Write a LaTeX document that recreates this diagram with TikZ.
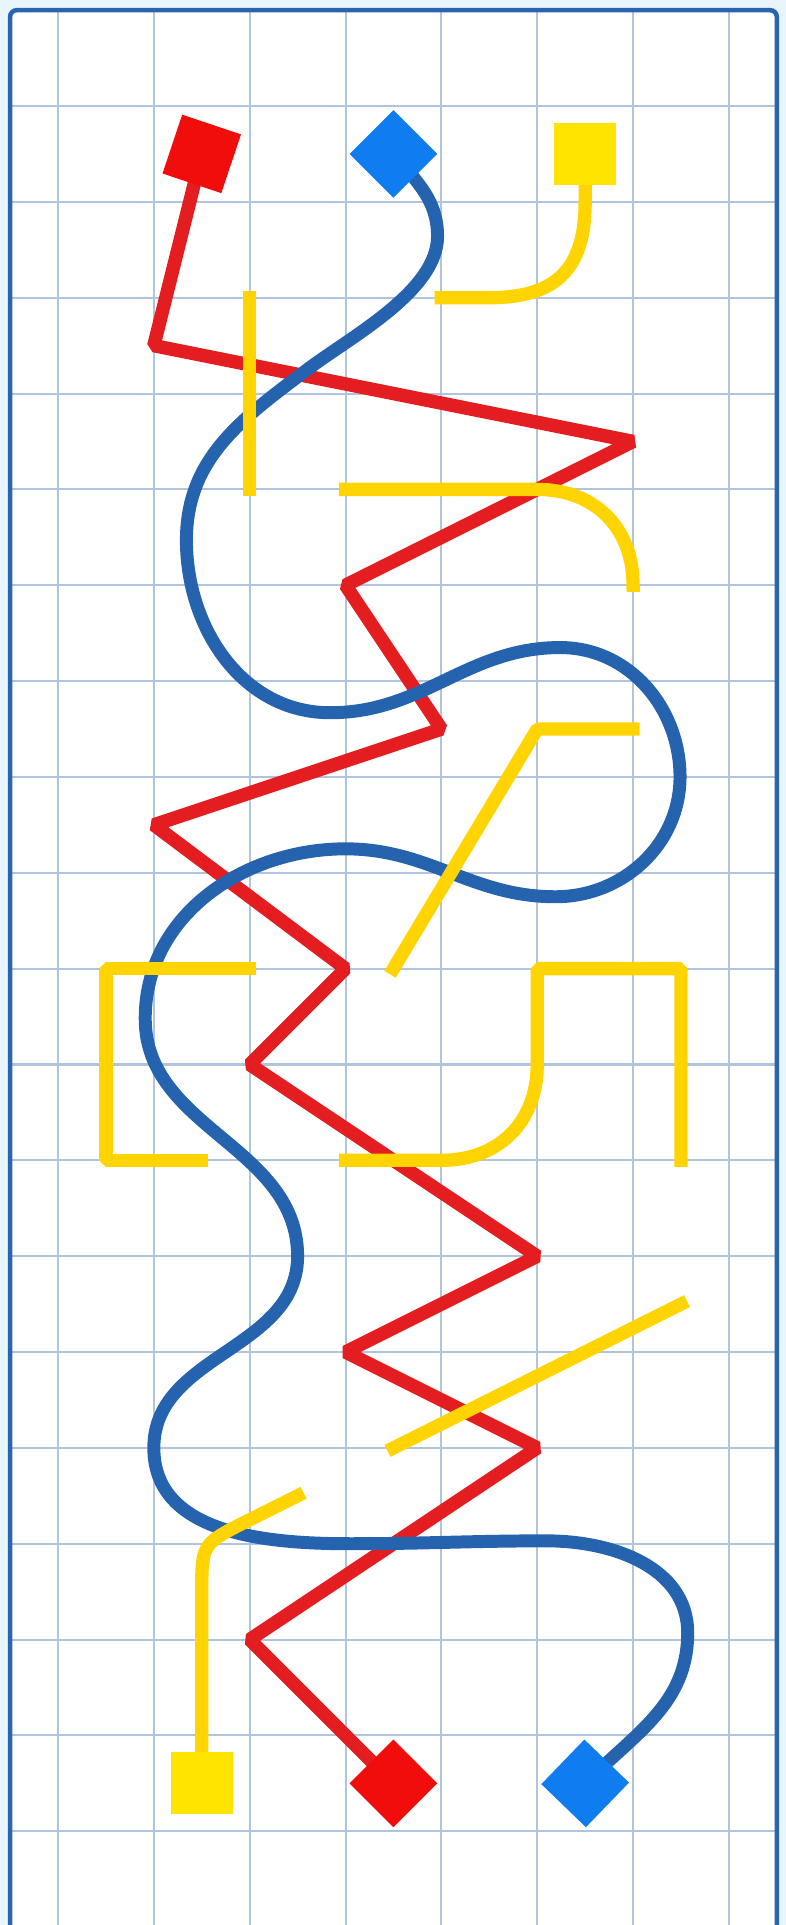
\documentclass[tikz,border=0pt]{standalone}
\usepackage{tikz}
\usetikzlibrary{backgrounds}
\definecolor{redln}{HTML}{E41E20}
\definecolor{redfill}{HTML}{F20D0D}
\definecolor{blueln}{HTML}{2563AE}
\definecolor{bluefill}{HTML}{0F7CF0}
\definecolor{yelln}{HTML}{FFD400}
\definecolor{yelfill}{HTML}{FFE400}
\definecolor{gridc}{HTML}{B0C4DE}
\definecolor{framec}{HTML}{2A66B0}
\definecolor{outside}{HTML}{E8F5FD}

\begin{document}
\begin{tikzpicture}[
  tile/.style={minimum size=6.47mm,inner sep=0pt,outer sep=0pt},
  redsq/.style={tile,fill=redfill},
  bluesq/.style={tile,fill=bluefill},
  yelsq/.style={tile,fill=yelfill},
  gridline/.style={draw=gridc,line width=0.6pt},
  frm/.style={draw=framec,line width=1.35pt,rounded corners=2pt},
  redline/.style={draw=redln,line width=4pt,line join=bevel},
  blueline/.style={draw=blueln,line width=3.85pt},
  yelline/.style={draw=yelln,line width=3.95pt,line cap=rect,line join=bevel}
]
\useasboundingbox (-0.605,1.106) rectangle (7.595,-18.978);
\node[redsq,rotate=-18.5] (topred) at (1.5,-0.5) {};
\node[bluesq,rotate=45] (topblue) at (3.5,-0.5) {};
\node[yelsq] (topyel) at (5.5,-0.5) {};
\node[yelsq] (botyel) at (1.5,-17.5) {};
\node[redsq,rotate=45] (botred) at (3.5,-17.5) {};
\node[bluesq,rotate=46] (botblue) at (5.5,-17.5) {};

\begin{scope}[on background layer]
\fill[outside] (-0.605,1.106) rectangle (7.595,-18.978);
\fill[white] (-0.5,1) rectangle (7.5,-19.5);
\begin{scope}
  \clip (-0.5,1) rectangle (7.5,-19.5);
  \foreach \x in {0,...,7} \draw[gridline] (\x,1) -- (\x,-19.5);
  \foreach \y in {0,...,18} \draw[gridline] (-0.5,-\y) -- (7.5,-\y);
\end{scope}
\draw[frm] (-0.5,1) rectangle (7.5,-19.5);

\draw[redline] (topred.center) -- (1,-2.5) -- (6,-3.5) -- (3,-5) -- (4,-6.5)
  -- (1,-7.5) -- (3,-9) -- (2,-10) -- (5,-12) -- (3,-13) -- (5,-14)
  -- (2,-16) -- (botred.center);

\draw[blueline] (topblue.center) to[out=-50,in=90] (3.96,-1.36)
  to[out=-90,in=37,looseness=0.75] (2.6,-2.75) to[out=-143,in=90] (1.34,-4.53)
  to[out=-90,in=180] (2.84,-6.33) to[out=0,in=180] (5.24,-5.65)
  to[out=0,in=90] (6.49,-7) to[out=-90,in=0] (5.19,-8.25)
  to[out=180,in=0] (3,-7.75) to[out=180,in=90] (0.91,-9.52)
  to[out=-90,in=90] (2.5,-12) to[out=-90,in=90] (1,-14)
  to[out=-90,in=180] (3.05,-15) to[out=0,in=180] (5.1,-14.97)
  to[out=0,in=90] (6.57,-15.93) to[out=-90,in=45] (botblue.center);

\draw[yelline] (topyel.center) -- (5.5,-1) .. controls (5.5,-1.7) and (5.2,-2) .. (4.5,-2) -- (4,-2);
\draw[yelline] (2,-2) -- (2,-4);
\draw[yelline] (3,-4) -- (5,-4) .. controls (5.6,-4) and (6,-4.4) .. (6,-5);
\draw[yelline] (6,-6.5) -- (5,-6.5) -- (3.5,-9);
\draw[yelline] (2,-9) -- (0.5,-9) -- (0.5,-11) -- (1.5,-11);
\draw[yelline] (3,-11) -- (4,-11) .. controls (4.6,-11) and (5,-10.6) .. (5,-10)
  -- (5,-9) -- (6.5,-9) -- (6.5,-11);
\draw[yelline] (6.5,-12.5) -- (3.5,-14);
\draw[yelline] (2.5,-14.5) -- (2,-14.75) .. controls (1.5,-15) .. (1.5,-15.5) -- (botyel.center);
\end{scope}
\end{tikzpicture}
\end{document}
